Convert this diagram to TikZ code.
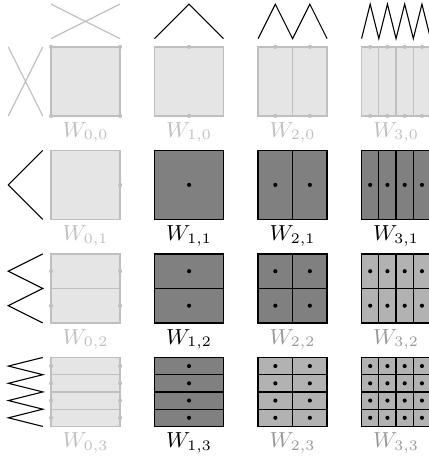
\documentclass[tikz,border=0pt]{standalone}
\usepackage{amsmath,amssymb}
\usepackage{tikz}

\begin{document}
\begin{tikzpicture}[x=1cm,y=1cm,
  pale/.style={fill=gray!20,draw=gray!50,line width=0.5pt},
  paleline/.style={gray!50,line width=0.5pt},
  paledot/.style={fill=gray!50},
  cellline/.style={black,line width=0.5pt},
  wave/.style={black,line width=0.45pt},
  lab/.style={anchor=base,font=\small,inner sep=0pt}]
  \useasboundingbox (0,0) rectangle (6.217,-6.652);
  % constant parts (crossed lines)
  \draw[paleline] (0.74,-0.56) -- (1.74,-0.06) (0.74,-0.06) -- (1.74,-0.56);
  \draw[paleline] (0.12,-0.68) -- (0.62,-1.68) (0.62,-0.68) -- (0.12,-1.68);
  % triangle waves along the top and the left
  \foreach \i/\n in {1/1,2/2,3/4}{
    \draw[wave] ({0.74+1.5*\i},-0.56) \foreach \k in {1,...,\n}{ -- ++({0.5/\n},0.5) -- ++({0.5/\n},-0.5) };
    \draw[wave] (0.62,{-0.68-1.5*\i}) \foreach \k in {1,...,\n}{ -- ++(-0.5,{-0.5/\n}) -- ++(0.5,{-0.5/\n}) };
  }
  % W_{0,0}
  \draw[pale] (0.74,-0.68) rectangle ++(1,-1);
  \foreach \p in {(0.74,-0.68),(1.74,-0.68),(0.74,-1.68),(1.74,-1.68)}
    \fill[paledot] \p circle (0.03);
  \node[lab,text=gray!50] (w00) at (1.24,-1.99) {$W_{0,0}$};
  % first row W_{i,0}
  \foreach \i/\n in {1/1,2/2,3/4}{
    \pgfmathsetmacro\xa{0.74+1.5*\i}
    \draw[pale] (\xa,-0.68) rectangle ++(1,-1);
    \foreach \k in {1,...,\n}{
      \draw[paleline] ({\xa+\k/\n},-0.68) -- ++(0,-1);
      \fill[paledot] ({\xa+(\k-0.5)/\n},-0.68) circle (0.03);
      \fill[paledot] ({\xa+(\k-0.5)/\n},-1.68) circle (0.03);
    }
    \node[lab,text=gray!50] (w\i0) at (\xa+0.5,-1.99) {$W_{\i,0}$};
  }
  % first column W_{0,j}
  \foreach \j/\m in {1/1,2/2,3/4}{
    \pgfmathsetmacro\ya{-0.68-1.5*\j}
    \draw[pale] (0.74,\ya) rectangle ++(1,-1);
    \foreach \k in {1,...,\m}{
      \draw[paleline] (0.74,{\ya-\k/\m}) -- ++(1,0);
      \fill[paledot] (1.74,{\ya-(\k-0.5)/\m}) circle (0.03);
      \ifnum\j>1
        \fill[paledot] (0.74,{\ya-(\k-0.5)/\m}) circle (0.03);
      \fi
    }
    \node[lab,text=gray!50] (w0\j) at (1.24,\ya-1.31) {$W_{0,\j}$};
  }
  % the other cells
  \foreach \j/\m in {1/1,2/2,3/4}{
    \foreach \i/\n in {1/1,2/2,3/4}{
      \pgfmathsetmacro\xa{0.74+1.5*\i}
      \pgfmathsetmacro\ya{-0.68-1.5*\j}
      \pgfmathtruncatemacro\mn{min(\i,\j)}
      \ifnum\numexpr\i+\j\relax<5 \def\fc{gray}\else\def\fc{gray!60}\fi
      \ifnum\mn=1 \def\lc{black}\else\def\lc{gray!80}\fi
      \fill[\fc] (\xa,\ya) rectangle ++(1,-1);
      \foreach \k in {1,...,\n}
        \draw[cellline] ({\xa+\k/\n},\ya) -- ++(0,-1);
      \foreach \l in {1,...,\m}
        \draw[cellline] (\xa,{\ya-\l/\m}) -- ++(1,0);
      \foreach \k in {1,...,\n}
        \foreach \l in {1,...,\m}
          \fill ({\xa+(\k-0.5)/\n},{\ya-(\l-0.5)/\m}) circle (0.03);
      \draw[cellline] (\xa,\ya) rectangle ++(1,-1);
      \node[lab,text=\lc] (w\i\j) at (\xa+0.5,\ya-1.31) {$W_{\i,\j}$};
    }
  }
\end{tikzpicture}
\end{document}
